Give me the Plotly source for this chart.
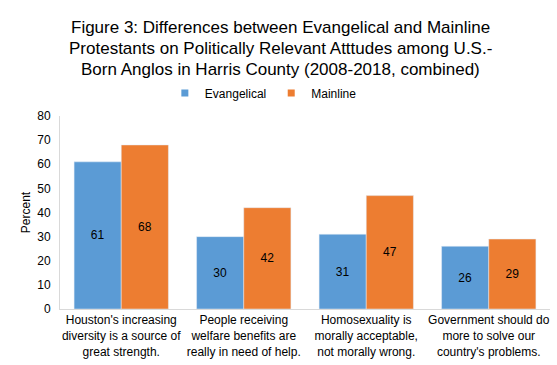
import plotly.graph_objects as go

categories = [
    "Houston's increasing<br>diversity is a source of<br>great strength.",
    "People receiving<br>welfare benefits are<br>really in need of help.",
    "Homosexuality is<br>morally acceptable,<br>not morally wrong.",
    "Government should do<br>more to solve our<br>country's problems.",
]
evangelical = [61, 30, 31, 26]
mainline = [68, 42, 47, 29]
title_lines = [
    "Figure 3: Differences between Evangelical and Mainline",
    "Protestants on Politically Relevant Atttudes among U.S.-",
    "Born Anglos in Harris County (2008-2018, combined)",
]

font = "Liberation Sans, Arial, sans-serif"
blue = "#5B9BD5"
orange = "#ED7D31"

fig = go.Figure()
fig.add_trace(go.Bar(
    x=categories, y=evangelical, name="Evangelical", showlegend=False,
    marker=dict(color=blue), legendgroup="e",
    text=evangelical, textposition="inside", insidetextanchor="middle",
    textfont=dict(color="black", size=12, family=font), textangle=0,
))
fig.add_trace(go.Bar(
    x=categories, y=mainline, name="Mainline", showlegend=False,
    marker=dict(color=orange), legendgroup="m",
    text=mainline, textposition="inside", insidetextanchor="middle",
    textfont=dict(color="black", size=12, family=font), textangle=0,
))
# legend entries with small square symbols
fig.add_trace(go.Scatter(x=[None], y=[None], mode="markers", name="Evangelical",
                         legendgroup="e", marker=dict(symbol="square", size=7, color=blue)))
fig.add_trace(go.Scatter(x=[None], y=[None], mode="markers", name="Mainline",
                         legendgroup="m", marker=dict(symbol="square", size=7, color=orange)))

for ypos, line in zip([1.461, 1.352, 1.2435], title_lines):
    fig.add_annotation(
        text=line, xref="paper", yref="paper", x=0.45, y=ypos,
        xanchor="center", yanchor="middle", showarrow=False,
        font=dict(size=17, family=font, color="black"),
    )

fig.update_layout(
    width=557, height=365,
    barmode="group", bargap=0.23, bargroupgap=0,
    paper_bgcolor="white", plot_bgcolor="white",
    font=dict(family=font, size=12, color="black"),
    legend=dict(
        orientation="h", x=0.415, xanchor="center", y=1.119, yanchor="middle",
        font=dict(size=12, family=font), itemwidth=30, traceorder="normal",
    ),
    margin=dict(l=60, r=7, t=116, b=56, autoexpand=False),
    xaxis=dict(
        showline=True, linecolor="#D9D9D9", linewidth=1,
        ticks="", tickfont=dict(size=12, family=font),
        tickangle=0, fixedrange=True,
    ),
    yaxis=dict(
        range=[0, 80], dtick=10, showgrid=False,
        showline=True, linecolor="#D9D9D9", linewidth=1,
        ticks="", tickfont=dict(size=12, family=font), ticklabelstandoff=6,
        title=dict(text="Percent", font=dict(size=12, family=font), standoff=4),
        fixedrange=True,
    ),
)

fig.write_html("out.html", config={"displayModeBar": False},
               post_script="document.body.style.margin='0';")
